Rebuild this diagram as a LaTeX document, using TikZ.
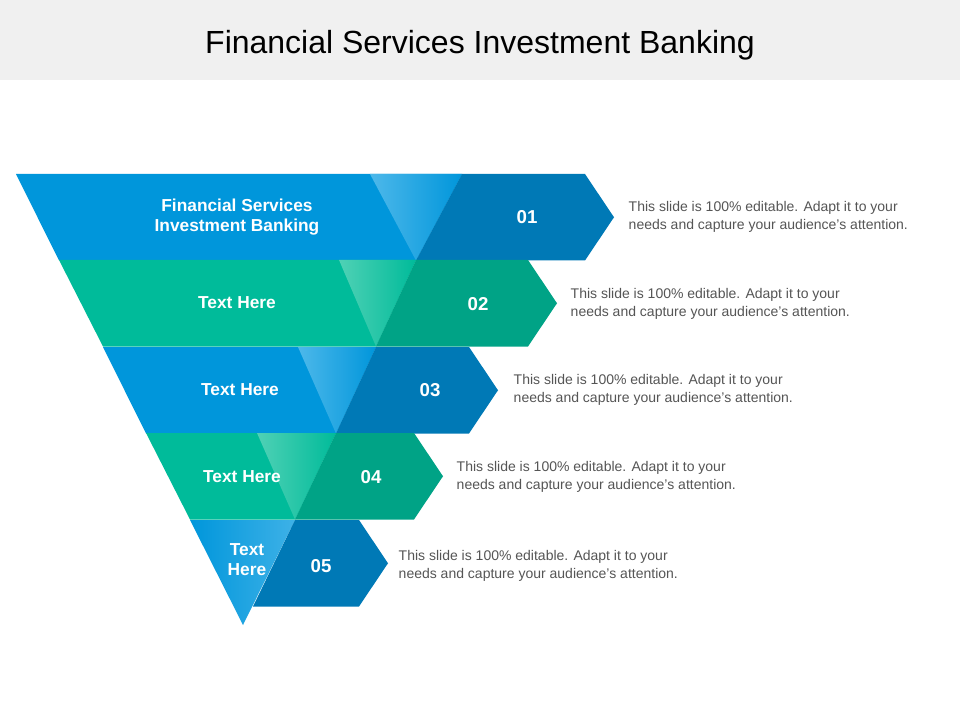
\documentclass[tikz,border=0pt]{standalone}
\usepackage{fontspec}
\setmainfont{Liberation Sans}
\definecolor{bleu}{HTML}{0096DB}
\definecolor{bleufonce}{HTML}{0079B6}
\definecolor{bleuclair}{HTML}{4DB8EA}
\definecolor{vert}{HTML}{00BB9A}
\definecolor{vertfonce}{HTML}{00A386}
\definecolor{vertclair}{HTML}{4FD1B5}
\definecolor{gristexte}{HTML}{555555}
\definecolor{fondtitre}{HTML}{F0F0F0}

\begin{document}
\begin{tikzpicture}[x=0.75pt,y=-0.75pt]
    % Styles
    \tikzset{etiquette/.style={text=white, font=\bfseries\fontsize{13}{15}\selectfont, align=center}}%
    \tikzset{numero/.style={text=white, font=\bfseries\fontsize{14}{16}\selectfont}}%
    \tikzset{descr/.style={text=gristexte, font=\fontsize{10.5}{13.5}\selectfont, align=left, anchor=west}}%

    % Cadre et titre
    \useasboundingbox (0,0) rectangle (960,720);%
    \fill[white] (0,0) rectangle (960,720);%
    \fill[fondtitre] (0,0) rectangle (960,80);%
    \node[font=\fontsize{24}{28}\selectfont] (titre) at (480,45) {Financial Services Investment Banking};%

    % Bandes : haut, bord gauche haut/bas, bord sombre haut/bas, triangle, coin droit, couleurs
    \foreach \i/\yh/\xa/\xb/\xc/\xd/\xt/\xr/\col in {%
        1/174/16/59/462/416/370/585/bleu,%
        2/260/59/103/416/376/339/528/vert,%
        3/347/103/146/376/336/298/469/bleu,%
        4/433/146/190/336/295/257/414/vert,%
        5/520/190/233/295/253/210/359/bleu}{%
        \pgfmathsetmacro{\yb}{\yh+86.5}%
        \pgfmathsetmacro{\ym}{\yh+43.25}%
        \pgfmathsetmacro{\xp}{\xr+29}%
        \ifnum\i<5
            \fill[\col] (\xa,\yh) -- (\xc,\yh) -- (\xd,\yb) -- (\xb,\yb) -- cycle;%
            \shade[left color=\col clair, right color=\col] (\xt,\yh) -- (\xc,\yh) -- (\xd,\yb) -- cycle;%
        \else
            \shade[left color=\col, right color=\col clair!80!\col] (\xa,\yh) -- (\xc,\yh) -- (243,625) -- cycle;%
        \fi
        \fill[\col fonce] (\xc,\yh) -- (\xr,\yh) -- (\xp,\ym) -- (\xr,\yb) -- (\xd,\yb) -- cycle;%
    }%

    % Textes
    \node[etiquette] (l1) at (237,217) {Financial Services\\Investment Banking};%
    \node[etiquette] (l2) at (237,303) {Text Here};%
    \node[etiquette] (l3) at (240,390) {Text Here};%
    \node[etiquette] (l4) at (242,477) {Text Here};%
    \node[etiquette] (l5) at (247,560) {Text\\Here};%

    \foreach \i/\xn/\y/\xd in {1/527/217/624, 2/478/304/566, 3/430/390/509, 4/371/477/452, 5/321/566/394}{%
        \node[numero] (n\i) at (\xn,\y) {0\i};%
        \node[descr] (d\i) at (\xd,\y) {This slide is 100\% editable. Adapt it to your\\needs and capture your audience's attention.};%
    }%
\end{tikzpicture}
\end{document}
